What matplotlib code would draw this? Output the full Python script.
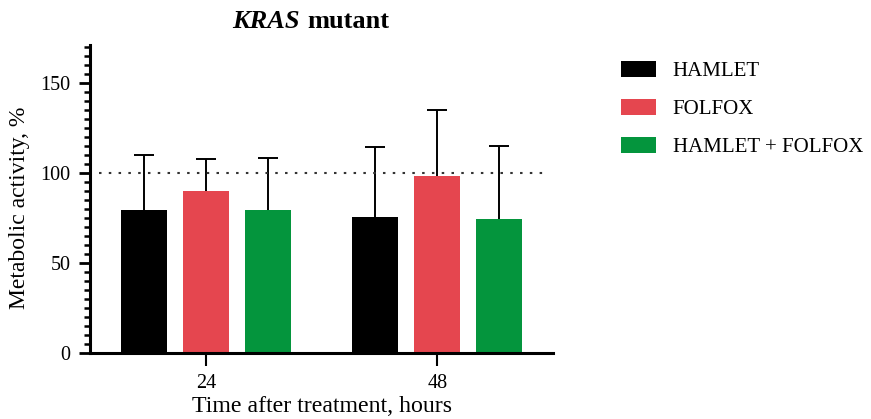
import matplotlib.pyplot as plt
import numpy as np

plt.rcParams['font.family'] = ['Liberation Serif', 'DejaVu Serif']

timepoints = ['24', '48']
groups = ['HAMLET', 'FOLFOX', 'HAMLET + FOLFOX']
colors = ['#000000', '#E5464F', '#04953D']
means = [[79.5, 75.5],
         [90, 98],
         [79.5, 74.5]]
upper_err = [[30.5, 39],
             [17.5, 37],
             [28.5, 40.5]]

fig = plt.figure(figsize=(8.71, 4.19), dpi=100)
ax = fig.add_axes([90/871, 66/419, 463/871, 308/419])

x = np.arange(len(timepoints))
step = 0.268
width = 0.197
handles = []
for i, g in enumerate(groups):
    pos = x + (i - 1) * step
    eb = ax.errorbar(pos, means[i], yerr=[np.zeros(2), upper_err[i]], fmt='none',
                     ecolor='black', elinewidth=1.4, capsize=7.5, capthick=1.4, zorder=1)
    # only the upper cap is shown
    eb[1][0].set_visible(False)
    b = ax.bar(pos, means[i], width, color=colors[i], label=g, zorder=2)
    handles.append(b)

ax.axhline(100, xmin=0.02, xmax=0.98, color='#333333', linestyle=(0, (1.2, 3.5)),
           linewidth=1.5, zorder=3)

ax.set_xlim(-0.5, 1.5)
ax.set_ylim(0, 171)
ax.set_yticks([0, 50, 100, 150])
ax.set_yticks(np.arange(0, 171, 5), minor=True)
ax.set_xticks(x)
ax.set_xticklabels(timepoints)

for s in ['top', 'right']:
    ax.spines[s].set_visible(False)
for s in ['left', 'bottom']:
    ax.spines[s].set_linewidth(2.2)

ax.tick_params(axis='y', which='major', length=8, width=2, labelsize=14.5, pad=6)
ax.tick_params(axis='y', which='minor', length=4, width=1.8)
ax.tick_params(axis='x', which='major', length=9, width=1.5, labelsize=14.5, pad=6)
ax.tick_params(axis='x', which='minor', length=0)

ax.set_xlabel('Time after treatment, hours', fontsize=17.2, labelpad=2)
fig.text(20/871, 1 - 208/419, 'Metabolic activity, %', fontsize=17,
         rotation=90, ha='center', va='center')

fig.text(300/871, 1 - 21/419, 'KRAS', fontsize=19, fontweight='bold', style='italic',
         ha='right', va='center')
fig.text(307/871, 1 - 21/419, 'mutant', fontsize=19, fontweight='bold',
         ha='left', va='center')

fig.legend(handles=handles, labels=groups, loc='upper left',
           bbox_to_anchor=(602/871, 1 - 42/419), frameon=False, fontsize=15,
           handlelength=1.7, handleheight=0.8, labelspacing=0.85, handletextpad=0.8)

fig.savefig('out.png', dpi=100)
